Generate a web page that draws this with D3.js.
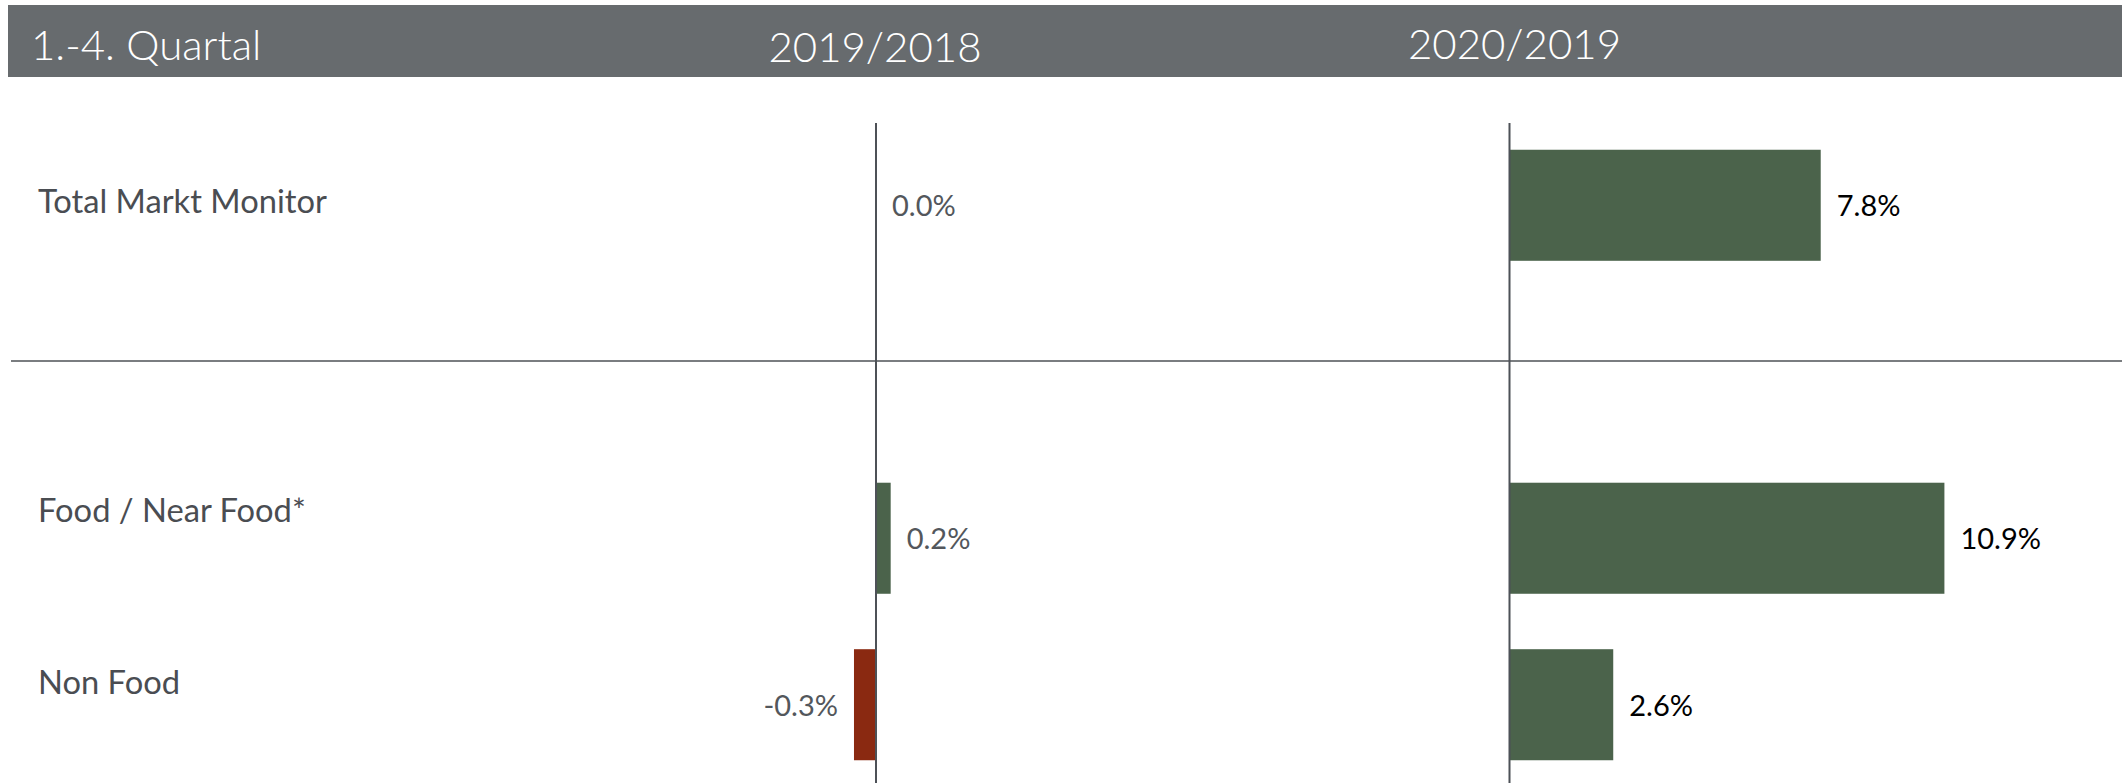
<html>
<head>
    <meta charset="utf-8">
    <title>Markt Monitor</title>
    <script src="https://cdnjs.cloudflare.com/ajax/libs/d3/7.8.5/d3.min.js"></script>
    <style>
        body { margin: 0; background: #fff; }
        svg { display: block; font-family: Lato, "Open Sans", sans-serif; }
    </style>
</head>
<body>
    <svg width="2122" height="783"></svg>
    <script>
        // chart data
        var headerTitle = "1.-4. Quartal";
        var periods = ["2019/2018", "2020/2019"];
        var categories = ["Total Markt Monitor", "Food / Near Food*", "Non Food"];
        var values2019 = [0.0, 0.2, -0.3];
        var values2020 = [7.8, 10.9, 2.6];

        var svg = d3.select("svg");
        var width = 2122, height = 783;

        // rows: one empty slot between the total and the split
        var slots = [categories[0], "gap", categories[1], categories[2]];
        var y = d3.scaleBand()
                  .domain(slots)
                  .range([122, 788])
                  .paddingInner(0.333)
                  .paddingOuter(0.1667);

        // each panel has its own scale
        var xLeft = d3.scaleLinear().domain([-1, 1]).range([876 - 73.4, 876 + 73.4]);
        var xRight = d3.scaleLinear().domain([0, 10]).range([1509.5, 1908.5]);

        // plain hyphen for negatives, like the original
        var fmt = d => (d < 0 ? "-" : "") + Math.abs(d).toFixed(1) + "%";

        // header band
        svg.append("rect")
            .attr("x", 8).attr("y", 5)
            .attr("width", width - 8).attr("height", 72)
            .attr("fill", "#676b6e");

        svg.append("text")
            .attr("x", 31).attr("y", 60)
            .attr("fill", "#fff")
            .style("font-size", "42px").style("font-weight", 300)
            .text(headerTitle);

        svg.selectAll("text.period").data(periods)
            .enter()
            .append("text")
            .attr("class", "period")
            .attr("x", (d, i) => i == 0 ? xLeft(0) - 1 : xRight(0) + 5)
            .attr("y", (d, i) => i == 0 ? 61.5 : 58.5)
            .attr("text-anchor", "middle")
            .attr("fill", "#fff")
            .style("font-size", "42px").style("font-weight", 300)
            .text(d => d);

        // separator under the total row
        svg.append("line")
            .attr("x1", 11).attr("x2", width)
            .attr("y1", 361).attr("y2", 361)
            .attr("stroke", "#7a7d80").attr("stroke-width", 2);

        // category labels (baseline offset from row centre)
        var labelShift = [8, -16, -11];
        svg.selectAll("text.cat").data(categories)
            .enter()
            .append("text")
            .attr("class", "cat")
            .attr("x", 38)
            .attr("y", (d, i) => y(d) + y.bandwidth() / 2 + labelShift[i])
            .attr("fill", "#4a4d52")
            .style("font-size", "32.7px")
            .text(d => d);

        function drawPanel(values, x, textColor) {
            var g = svg.append("g");
            g.selectAll("rect").data(values)
                .enter()
                .append("rect")
                .attr("x", d => Math.min(x(0), x(d)))
                .attr("y", (d, i) => y(categories[i]))
                .attr("width", d => Math.abs(x(d) - x(0)))
                .attr("height", y.bandwidth())
                .attr("fill", d => d < 0 ? "#8a2911" : "#4b634b");

            g.append("line")
                .attr("x1", x(0)).attr("x2", x(0))
                .attr("y1", 123).attr("y2", height)
                .attr("stroke", "#4d5157").attr("stroke-width", 2);

            g.selectAll("text").data(values)
                .enter()
                .append("text")
                .attr("x", d => d < 0 ? x(d) - 16 : x(d) + 16)
                .attr("y", (d, i) => y(categories[i]) + y.bandwidth() / 2 + 11)
                .attr("text-anchor", d => d < 0 ? "end" : "start")
                .attr("fill", textColor)
                .style("font-size", "29px")
                .text(fmt);
        }

        drawPanel(values2019, xLeft, "#53575c");
        drawPanel(values2020, xRight, "#000");
    </script>
</body>
</html>
